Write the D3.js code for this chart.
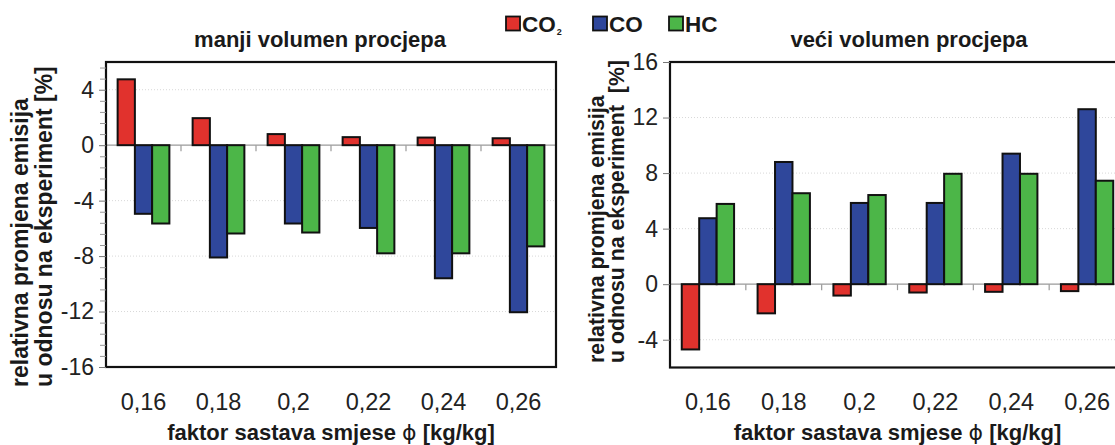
<!DOCTYPE html>
<html>
<head>
<meta charset="utf-8">
<script src="https://cdn.jsdelivr.net/npm/d3@7"></script>
<style>
  body { margin: 0; background: #fff; }
  svg { display: block; font-family: "Liberation Sans", Arial, sans-serif; }
</style>
</head>
<body>
<svg id="chart" width="1115" height="445"></svg>
<script>
// ---- data ----
const categories = ["0,16", "0,18", "0,2", "0,22", "0,24", "0,26"];
const seriesNames = ["CO2", "CO", "HC"];
const leftCO2 = [4.75, 1.95, 0.8, 0.58, 0.55, 0.5];
const leftCO  = [-4.95, -8.1, -5.65, -5.97, -9.6, -12.05];
const leftHC  = [-5.65, -6.37, -6.3, -7.8, -7.8, -7.3];
const rightCO2 = [-4.7, -2.1, -0.82, -0.6, -0.55, -0.5];
const rightCO  = [4.75, 8.8, 5.85, 5.85, 9.4, 12.6];
const rightHC  = [5.78, 6.55, 6.42, 7.95, 7.95, 7.45];
const leftYTicks = [-16, -12, -8, -4, 0, 4];
const rightYTicks = [-4, 0, 4, 8, 12, 16];
const leftTitle = "manji volumen procjepa";
const rightTitle = "veći volumen procjepa";
const yTitle1 = "relativna promjena emisija";
const yTitle2Left = "u odnosu na eksperiment [%]";
const yTitle2Right = "u odnosu na eksperiment\u00a0 [%]";
const xTitleMain = "faktor sastava smjese ";
const xTitlePhi = "\u03D5";
const xTitleUnit = " [kg/kg]";

const colors = { CO2: "#e1322d", CO: "#2f479b", HC: "#4cb648" };

const svg = d3.select("#chart");
const FONT = "\"Liberation Sans\", Arial, sans-serif";

function panel(opts) {
  const { left, right, top, bottom, domain, ticks, minor, data, title, titleX,
          yt1x, yt2x, ytBottom, yt2, ytSize } = opts;
  const g = svg.append("g");
  const x = d3.scaleBand().domain(categories).range([left, right]).padding(0);
  const groupFrac = 0.69;
  const x1 = d3.scaleBand().domain(seriesNames)
    .range([(1 - groupFrac) / 2 * x.bandwidth(), (1 + groupFrac) / 2 * x.bandwidth()])
    .padding(0);
  const y = d3.scaleLinear().domain(domain).range([bottom, top]);

  // grid lines (faint dotted)
  g.append("g").selectAll("line").data(ticks.filter(t => t !== 0 && t !== domain[0] && t !== domain[1]))
    .join("line")
    .attr("x1", left).attr("x2", right)
    .attr("y1", d => y(d)).attr("y2", d => y(d))
    .attr("stroke", "#d8d8d8").attr("stroke-width", 1).attr("stroke-dasharray", "1,2");

  // zero line
  g.append("line").attr("x1", left).attr("x2", right)
    .attr("y1", y(0)).attr("y2", y(0))
    .attr("stroke", "#9a9a9a").attr("stroke-width", 1.2);

  // category boundary ticks on zero line
  g.append("g").selectAll("line").data(categories.slice(1))
    .join("line")
    .attr("x1", d => x(d)).attr("x2", d => x(d))
    .attr("y1", y(0)).attr("y2", y(0) + 6)
    .attr("stroke", "#9a9a9a").attr("stroke-width", 1.2);

  // bars
  const rows = categories.map((c, i) => ({ cat: c, vals: seriesNames.map((s, k) => ({ s, v: data[k][i] })) }));
  const grp = g.append("g").selectAll("g").data(rows).join("g")
    .attr("transform", d => `translate(${x(d.cat)},0)`);
  grp.selectAll("rect").data(d => d.vals).join("rect")
    .attr("x", d => x1(d.s))
    .attr("width", x1.bandwidth())
    .attr("y", d => y(Math.max(0, d.v)))
    .attr("height", d => Math.abs(y(d.v) - y(0)))
    .attr("fill", d => colors[d.s])
    .attr("stroke", "#111").attr("stroke-width", 2);

  // frame
  g.append("rect").attr("x", left).attr("y", top)
    .attr("width", right - left).attr("height", bottom - top)
    .attr("fill", "none").attr("stroke", "#111").attr("stroke-width", 2.2);

  // y axis
  const yAxis = d3.axisLeft(y).tickValues(ticks).tickSize(7).tickPadding(5)
    .tickFormat(d => d);
  const ya = g.append("g").attr("transform", `translate(${left},0)`).call(yAxis);
  ya.select(".domain").remove();
  ya.selectAll(".tick line").attr("stroke", "#777").attr("stroke-width", 1);
  ya.selectAll(".tick text").attr("font-size", 23).attr("fill", "#222")
    .attr("font-family", FONT);
  if (minor) {
    const m = g.append("g").attr("transform", `translate(${left},0)`)
      .call(d3.axisLeft(y).tickValues(minor).tickSize(6).tickFormat(""));
    m.select(".domain").remove();
    m.selectAll(".tick line").attr("stroke", "#999").attr("stroke-width", 1);
  }

  // x axis labels
  const xa = g.append("g").attr("transform", `translate(0,${bottom})`)
    .call(d3.axisBottom(x).tickSize(0).tickPadding(26));
  xa.select(".domain").remove();
  xa.selectAll(".tick text").attr("font-size", 23.5).attr("fill", "#222")
    .attr("font-family", FONT);

  // title
  g.append("text").attr("x", titleX).attr("y", 47).attr("text-anchor", "middle")
    .attr("font-size", 22).attr("font-weight", "bold").attr("fill", "#1a1a1a")
    .text(title);

  // x title
  const xt = g.append("text").attr("x", (left + right) / 2).attr("y", 440)
    .attr("text-anchor", "middle").attr("font-size", 22).attr("font-weight", "bold")
    .attr("fill", "#1a1a1a");
  xt.append("tspan").text(xTitleMain);
  xt.append("tspan").attr("font-weight", "normal").attr("font-family", "DejaVu Sans").text(xTitlePhi);
  xt.append("tspan").text(xTitleUnit);

  // y title (two lines)
  g.append("text").attr("transform", `translate(${yt1x},${ytBottom}) rotate(-90)`)
    .attr("font-size", ytSize).attr("font-weight", "bold").attr("fill", "#1a1a1a")
    .text(yTitle1);
  g.append("text").attr("transform", `translate(${yt2x},${ytBottom}) rotate(-90)`)
    .attr("font-size", ytSize).attr("font-weight", "bold").attr("fill", "#1a1a1a")
    .text(yt2);
}

const leftMinor = d3.range(-16, 6.01, 0.8).filter(v => !leftYTicks.some(t => Math.abs(t - v) < 1e-6));

panel({
  left: 106, right: 556, top: 62, bottom: 367,
  domain: [-16, 6], ticks: leftYTicks, minor: leftMinor,
  data: [leftCO2, leftCO, leftHC], title: leftTitle, titleX: 320,
  yt1x: 28, yt2x: 52, ytBottom: 387, yt2: yTitle2Left, ytSize: 23
});
panel({
  left: 670, right: 1125, top: 62, bottom: 367.5,
  domain: [-6, 16], ticks: rightYTicks, minor: null,
  data: [rightCO2, rightCO, rightHC], title: rightTitle, titleX: 909,
  yt1x: 604, yt2x: 624, ytBottom: 363, yt2: yTitle2Right, ytSize: 21.3
});

// legend
const legendItems = [
  { key: "CO2", x: 506, label: "CO", sub: "2" },
  { key: "CO", x: 593, label: "CO", sub: null },
  { key: "HC", x: 669, label: "HC", sub: null }
];
const lg = svg.append("g");
legendItems.forEach(it => {
  lg.append("rect").attr("x", it.x).attr("y", 16.5).attr("width", 14).attr("height", 14)
    .attr("fill", colors[it.key]).attr("stroke", "#111").attr("stroke-width", 1.8);
  const t = lg.append("text").attr("x", it.x + 16).attr("y", 31.5)
    .attr("font-size", 22.5).attr("font-weight", "bold").attr("fill", "#1a1a1a").text(it.label);
  if (it.sub) {
    t.append("tspan").attr("font-size", 9).attr("dy", 3).attr("dx", 1).text(it.sub);
  }
});
</script>
</body>
</html>
